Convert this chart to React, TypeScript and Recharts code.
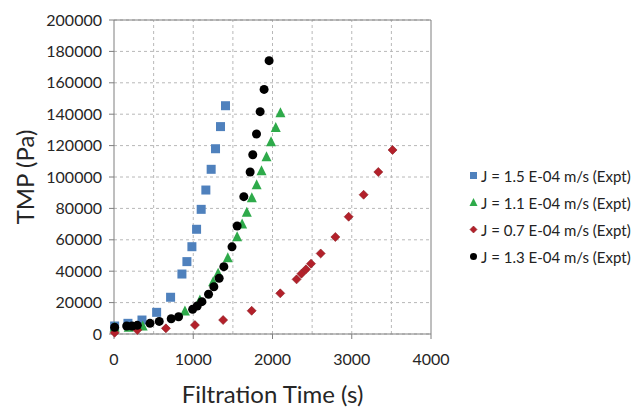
import { ScatterChart, Scatter, XAxis, YAxis, CartesianGrid, Legend, ReferenceLine } from 'recharts';

// J = 1.5 E-04 m/s
const blueTime = [8, 176, 353, 538, 714, 857, 920, 983, 1042, 1100, 1159, 1226, 1281, 1344, 1407];
const bluePressure = [5100, 6800, 8900, 13800, 23400, 38200, 46100, 55600, 66700, 79400, 91700, 104900, 118000, 132100, 145400];

// J = 1.1 E-04 m/s
const greenTime = [8, 185, 362, 895, 1084, 1251, 1314, 1436, 1554, 1617, 1676, 1739, 1800, 1861, 1924, 1982, 2041, 2100];
const greenPressure = [4300, 4300, 5100, 14700, 21700, 33300, 38700, 48500, 62000, 70100, 77500, 86800, 95000, 104000, 112900, 122500, 131500, 141000];

// J = 0.7 E-04 m/s
const redTime = [8, 294, 655, 1021, 1377, 1737, 2098, 2304, 2365, 2423, 2486, 2608, 2793, 2961, 3150, 3335, 3515];
const redPressure = [800, 2500, 3600, 5700, 8900, 14800, 25900, 34800, 38400, 41200, 44800, 51300, 61800, 74700, 88700, 103200, 117200];

// J = 1.3 E-04 m/s
const blackTime = [8, 160, 227, 294, 454, 571, 722, 815, 992, 1050, 1109, 1193, 1260, 1327, 1386, 1489, 1554, 1638, 1718, 1751, 1798, 1844, 1894, 1957];
const blackPressure = [4300, 5100, 5100, 5500, 6800, 8000, 9700, 11000, 15700, 17800, 20600, 25300, 30100, 35500, 42900, 55500, 68800, 87500, 103200, 114200, 127400, 141600, 155800, 174100];

const xTicks = [0, 1000, 2000, 3000, 4000];
const xGrid = [500, 1000, 1500, 2000, 2500, 3000, 3500];
const yTicks = [0, 20000, 40000, 60000, 80000, 100000, 120000, 140000, 160000, 180000, 200000];

const pts = (xs: number[], ys: number[]) => xs.map((x, i) => ({ x, y: ys[i] }));

const series = [
  { name: 'J = 1.5 E-04 m/s (Expt)', data: pts(blueTime, bluePressure), color: '#4f81bd', kind: 'square' },
  { name: 'J = 1.1 E-04 m/s (Expt)', data: pts(greenTime, greenPressure), color: '#2eaa4a', kind: 'triangle' },
  { name: 'J = 0.7 E-04 m/s (Expt)', data: pts(redTime, redPressure), color: '#b3202a', kind: 'diamond' },
  { name: 'J = 1.3 E-04 m/s (Expt)', data: pts(blackTime, blackPressure), color: '#000000', kind: 'circle' },
];

const font = 'Lato, "Open Sans", sans-serif';
const gridColor = '#b8b8b8';

const Marker = ({ kind, color, cx, cy, s }: { kind: string; color: string; cx: number; cy: number; s: number }) => {
  const h = s / 2;
  if (kind === 'square') return <rect x={cx - h} y={cy - h} width={s} height={s} fill={color} />;
  if (kind === 'triangle') return <polygon points={`${cx},${cy - h - 1} ${cx - h - 0.5},${cy + h} ${cx + h + 0.5},${cy + h}`} fill={color} />;
  if (kind === 'diamond') return <polygon points={`${cx},${cy - h} ${cx + h},${cy} ${cx},${cy + h} ${cx - h},${cy}`} fill={color} stroke="#8a1a1f" strokeWidth={0.6} />;
  return <circle cx={cx} cy={cy} r={h} fill={color} />;
};

const LegendBox = () => (
  <div style={{ fontFamily: font, fontSize: 15, color: '#222' }}>
    {series.map((s) => (
      <div key={s.name} style={{ display: 'flex', alignItems: 'center', height: 27 }}>
        <svg width={9} height={9} style={{ marginRight: 3 }}>
          <Marker kind={s.kind} color={s.color} cx={4.5} cy={4.5} s={7} />
        </svg>
        <span>{s.name}</span>
      </div>
    ))}
  </div>
);

export default function App() {
  return (
    <div style={{ position: 'absolute', left: 0, top: 0, width: 639, height: 409, background: '#fff' }}>
      <ScatterChart width={639} height={409} margin={{ top: 20, right: 208, bottom: 0, left: 0 }}>
        <CartesianGrid stroke={gridColor} strokeDasharray="3 3" vertical={false} />
        {/* vertical gridlines every 500 s, labels only every 1000 s */}
        {xGrid.map((v) => (
          <ReferenceLine key={v} x={v} stroke={gridColor} strokeDasharray="3 3" />
        ))}
        <XAxis
          type="number"
          dataKey="x"
          domain={[0, 4000]}
          ticks={xTicks}
          height={75}
          stroke="#7f7f7f"
          tickSize={5}
          tickMargin={15}
          tick={{ fill: '#262626', fontSize: 16, fontFamily: font }}
          label={{ value: 'Filtration Time (s)', position: 'insideBottom', offset: 6, style: { fontSize: 24, fontFamily: font, fill: '#262626' } }}
        />
        <YAxis
          type="number"
          dataKey="y"
          domain={[0, 200000]}
          ticks={yTicks}
          width={114}
          stroke="#7f7f7f"
          tickSize={5}
          tickMargin={7}
          interval={0}
          tick={{ fill: '#262626', fontSize: 16, fontFamily: font }}
          label={{ value: 'TMP (Pa)', angle: -90, position: 'insideLeft', offset: 18, dx: 7, style: { textAnchor: 'middle', fontSize: 24, fontFamily: font, fill: '#262626' } }}
        />
        <ReferenceLine y={200000} stroke="#7f7f7f" />
        <ReferenceLine x={4000} stroke="#7f7f7f" />
        <Legend
          layout="horizontal"
          verticalAlign="middle"
          content={<LegendBox />}
          wrapperStyle={{ left: 469, top: 162, width: 170 }}
        />
        {series.map((s) => (
          <Scatter
            key={s.name}
            name={s.name}
            data={s.data}
            fill={s.color}
            isAnimationActive={false}
            shape={(p: any) => <Marker kind={s.kind} color={s.color} cx={p.cx} cy={p.cy} s={9} />}
          />
        ))}
      </ScatterChart>
    </div>
  );
}
